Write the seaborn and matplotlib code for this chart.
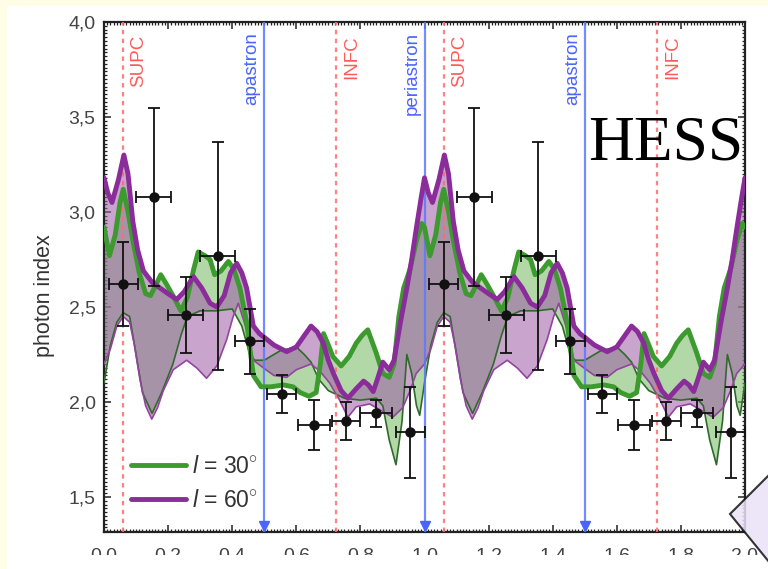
import numpy as np
import matplotlib
matplotlib.use("Agg")
import matplotlib.pyplot as plt
import seaborn as sns
from matplotlib.patches import Rectangle, Polygon
from matplotlib.ticker import MultipleLocator, FuncFormatter

sns.set_style("ticks")
plt.rcParams["font.family"] = ["Liberation Sans", "DejaVu Sans"]
plt.rcParams["mathtext.fontset"] = "custom"
plt.rcParams["mathtext.rm"] = "Liberation Sans"
plt.rcParams["mathtext.it"] = "Liberation Sans:italic"

# ---- measured photon index per orbital-phase bin ----
bin_phase = [0.06, 0.155, 0.255, 0.355, 0.455, 0.555, 0.655, 0.755, 0.85, 0.955]
bin_halfwidth = [0.045, 0.055, 0.055, 0.055, 0.045, 0.045, 0.05, 0.045, 0.05, 0.045]
bin_index = [2.62, 3.08, 2.46, 2.77, 2.32, 2.04, 1.88, 1.90, 1.94, 1.84]
bin_index_err = [0.22, 0.47, 0.20, 0.60, 0.17, 0.10, 0.13, 0.10, 0.07, 0.24]

# ---- model bands, inclination l = 30 deg ----
l30_a_phase = [0.000, 0.017, 0.035, 0.050, 0.060, 0.075, 0.090, 0.110, 0.130, 0.145,
               0.160, 0.177, 0.195, 0.215, 0.240, 0.260, 0.280, 0.294, 0.315, 0.331,
               0.345, 0.365, 0.388, 0.405, 0.424, 0.445, 0.466, 0.490, 0.520, 0.560,
               0.590, 0.612, 0.640, 0.662, 0.675, 0.685, 0.700, 0.714, 0.740, 0.765,
               0.787, 0.805, 0.823, 0.849, 0.870, 0.890, 0.905, 0.920, 0.935, 0.955,
               0.975, 0.991, 1.000]
l30_a_index = [2.92, 2.77, 2.88, 3.05, 3.12, 3.00, 2.85, 2.68, 2.57, 2.56,
               2.61, 2.67, 2.62, 2.56, 2.48, 2.55, 2.70, 2.79, 2.77, 2.75,
               2.67, 2.69, 2.74, 2.70, 2.60, 2.42, 2.14, 2.08, 2.08, 2.09,
               2.08, 2.05, 2.03, 2.05, 2.20, 2.36, 2.30, 2.24, 2.19, 2.24,
               2.31, 2.35, 2.38, 2.26, 2.15, 2.13, 2.20, 2.45, 2.60, 2.70,
               2.85, 2.94, 2.92]
l30_b_phase = [0.000, 0.020, 0.040, 0.060, 0.080, 0.100, 0.120, 0.150, 0.180, 0.215,
               0.240, 0.260, 0.300, 0.350, 0.400, 0.430, 0.455, 0.470, 0.500, 0.550,
               0.600, 0.625, 0.646, 0.670, 0.700, 0.750, 0.800, 0.850, 0.870, 0.890,
               0.911, 0.930, 0.945, 0.960, 0.975, 0.985, 1.000]
l30_b_index = [2.10, 2.30, 2.42, 2.47, 2.45, 2.25, 2.05, 1.94, 2.05, 2.20,
               2.35, 2.45, 2.48, 2.48, 2.49, 2.40, 2.25, 2.22, 2.22, 2.27,
               2.29, 2.25, 2.21, 2.12, 2.06, 2.02, 2.01, 2.02, 1.98, 1.80,
               1.67, 1.90, 2.25, 2.15, 1.98, 1.93, 2.10]

# ---- model bands, inclination l = 60 deg ----
l60_a_phase = [0.000, 0.012, 0.025, 0.045, 0.062, 0.075, 0.090, 0.105, 0.123, 0.150,
               0.175, 0.200, 0.227, 0.250, 0.279, 0.305, 0.331, 0.352, 0.375, 0.395,
               0.414, 0.430, 0.445, 0.466, 0.485, 0.508, 0.530, 0.570, 0.600, 0.625,
               0.646, 0.665, 0.684, 0.700, 0.716, 0.740, 0.761, 0.787, 0.810, 0.825,
               0.840, 0.855, 0.870, 0.890, 0.905, 0.925, 0.945, 0.960, 0.975, 0.990,
               1.000]
l60_a_index = [3.18, 3.10, 3.05, 3.17, 3.30, 3.20, 2.95, 2.80, 2.69, 2.63,
               2.60, 2.57, 2.54, 2.58, 2.66, 2.60, 2.52, 2.50, 2.56, 2.68,
               2.73, 2.68, 2.60, 2.40, 2.36, 2.33, 2.30, 2.265, 2.29, 2.35,
               2.40, 2.37, 2.31, 2.22, 2.15, 2.06, 2.02, 2.07, 2.11, 2.09,
               2.055, 2.13, 2.21, 2.17, 2.22, 2.42, 2.60, 2.75, 2.92, 3.08,
               3.18]
l60_b_phase = [0.000, 0.020, 0.040, 0.060, 0.080, 0.095, 0.112, 0.130, 0.149, 0.167,
               0.185, 0.216, 0.258, 0.289, 0.320, 0.352, 0.383, 0.403, 0.419, 0.445,
               0.466, 0.497, 0.530, 0.570, 0.600, 0.646, 0.675, 0.704, 0.735, 0.761,
               0.787, 0.829, 0.860, 0.901, 0.932, 0.955, 0.974, 1.000]
l60_b_index = [2.20, 2.28, 2.40, 2.45, 2.42, 2.30, 2.12, 1.98, 1.91, 1.97,
               2.06, 2.17, 2.22, 2.18, 2.125, 2.19, 2.33, 2.45, 2.52, 2.38,
               2.22, 2.18, 2.14, 2.13, 2.17, 2.20, 2.16, 2.10, 2.01, 1.92,
               1.975, 1.99, 1.96, 1.92, 1.97, 2.06, 2.15, 2.20]

# ---- orbital markers ----
conj_phase = [0.06, 0.725, 1.06, 1.725]
conj_label = ["SUPC", "INFC", "SUPC", "INFC"]
apsis_phase = [0.5, 1.0, 1.5]
apsis_label = ["apastron", "periastron", "apastron"]

legend_l30 = r"$l$ = 30$^{\circ}$"
legend_l60 = r"$l$ = 60$^{\circ}$"

W, H = 768, 569
fig = plt.figure(figsize=(W / 100, H / 100), dpi=100)
fig.patch.set_facecolor("#fffde6")
fig.add_artist(Rectangle((7 / W, 0), 1, 1 - 6 / H, transform=fig.transFigure,
                         facecolor="white", edgecolor="none", zorder=-5))

ax_l, ax_r, ax_t, ax_b = 104, 745, 22, 532
ax = fig.add_axes([ax_l / W, 1 - ax_b / H, (ax_r - ax_l) / W, (ax_b - ax_t) / H])
ax.set_facecolor("white")


def two_orbits(phase, values):
    p = np.asarray(phase, float)
    v = np.asarray(values, float)
    return np.concatenate([p, p + 1.0]), np.concatenate([v, v])


green_fill, purple_fill = "#78bc66", "#a060a8"
green_line, green_thin = "#3c9a2e", "#2f6a2a"
purple_line, purple_thin = "#8a2c9a", "#93449f"

bands = [
    (l30_a_phase, l30_a_index, l30_b_phase, l30_b_index, green_fill, green_line, green_thin, legend_l30),
    (l60_a_phase, l60_a_index, l60_b_phase, l60_b_index, purple_fill, purple_line, purple_thin, legend_l60),
]
for pa, va, pb, vb, fc, lc, tc, lab in bands:
    xa, ya = two_orbits(pa, va)
    xb, yb = two_orbits(pb, vb)
    ax.fill(np.r_[xa, xb[::-1]], np.r_[ya, yb[::-1]], color=fc, alpha=0.57, lw=0, zorder=2)
    sns.lineplot(x=xb, y=yb, ax=ax, color=tc, lw=1.2, sort=False, zorder=3,
                 estimator=None, legend=False)
    sns.lineplot(x=xa, y=ya, ax=ax, color=lc, lw=3.5, sort=False, zorder=4,
                 estimator=None, label=lab)

ymin, ymax = 1.316, 4.0
ax.set_xlim(0, 2.0)
ax.set_ylim(ymin, ymax)

# conjunction and apsis markers
for ph, lab in zip(conj_phase, conj_label):
    ax.axvline(ph, color="#ff6b6b", lw=1.6, ls=(0, (2, 2)), zorder=3.5, alpha=0.85)
    ax.annotate(lab, xy=(ph, 1.0), xycoords=("data", "axes fraction"),
                xytext=(7, -13), textcoords="offset pixels", rotation=90,
                ha="left", va="top", color="#ff5a5a", fontsize=13.5)
for ph, lab in zip(apsis_phase, apsis_label):
    ax.axvline(ph, color="#5b78ff", lw=1.6, zorder=3.5, alpha=0.85)
    ax.annotate(lab, xy=(ph, 1.0), xycoords=("data", "axes fraction"),
                xytext=(-4, -10), textcoords="offset pixels", rotation=90,
                ha="right", va="top", color="#4a64ff", fontsize=13.5)
ax.plot(apsis_phase, [ymin + 0.03] * len(apsis_phase), ls="none", marker="v",
        ms=7, color="#4a64ff", zorder=3.6, clip_on=False)

# binned measurements, folded on two orbits
bx, by = two_orbits(bin_phase, bin_index)
_, bxe = two_orbits(bin_phase, bin_halfwidth)
_, bye = two_orbits(bin_phase, bin_index_err)
ax.errorbar(bx, by, xerr=bxe, yerr=bye, fmt="o", color="#111111", ms=6.5,
            elinewidth=1.3, capsize=4, capthick=1.3, zorder=6)

# axes styling
comma = FuncFormatter(lambda v, p: f"{v:.1f}".replace(".", ","))
ax.xaxis.set_major_locator(MultipleLocator(0.2))
ax.xaxis.set_minor_locator(MultipleLocator(0.01))
ax.yaxis.set_major_locator(MultipleLocator(0.5))
ax.yaxis.set_minor_locator(MultipleLocator(0.02))
ax.xaxis.set_major_formatter(comma)
ax.yaxis.set_major_formatter(comma)
ax.tick_params(which="both", direction="in", top=True, right=True, color="#222222")
ax.tick_params(which="major", length=5, width=1.1)
ax.tick_params(which="minor", length=2.5, width=0.9)
ax.tick_params(axis="y", which="major", labelsize=14, labelcolor="#444444", pad=6)
ax.tick_params(axis="x", which="major", labelsize=14, labelcolor="#444444", pad=11)
for s in ax.spines.values():
    s.set_linewidth(1.6)
    s.set_color("#222222")

ax.set_xlabel("")
ax.set_ylabel("photon index", fontsize=15.5, color="#333333")
ax.yaxis.set_label_coords((55 - ax_l) / (ax_r - ax_l), (ax_b - 296) / (ax_b - ax_t))

leg = ax.legend(loc="lower left", bbox_to_anchor=(0.042, 0.04), frameon=False,
                fontsize=16.5, handlelength=2.4, handletextpad=0.25, labelspacing=0.45,
                borderpad=0, borderaxespad=0)
for t in leg.get_texts():
    t.set_color("#333333")

fig.text(588 / W, 1 - 160 / H, "HESS", family="Liberation Serif", fontsize=45.6,
         ha="left", va="baseline", color="black")

# lower edge of the panel and the corner badge
fig.add_artist(Rectangle((7 / W, 0), 1, 14 / H, transform=fig.transFigure,
                         facecolor="white", edgecolor="none", zorder=10))
diamond_px = [(730, 514), (800, 444), (870, 514), (800, 600)]
fig.add_artist(Polygon([(x / W, 1 - y / H) for x, y in diamond_px], closed=True,
                       transform=fig.transFigure, facecolor="#e9e2f7", alpha=0.85,
                       edgecolor="#111111", lw=1.5, zorder=11))

fig.savefig("out.png", dpi=100)
